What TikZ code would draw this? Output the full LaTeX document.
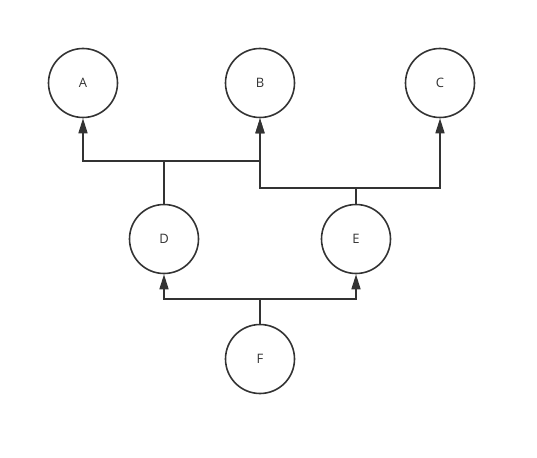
\documentclass[tikz,border=0pt]{standalone}
\usepackage{fontspec}
\setmainfont{Open Sans}
\usetikzlibrary{arrows.meta}
\definecolor{ink}{HTML}{333333}
\begin{document}
\begin{tikzpicture}[x=1pt,y=-1pt,
  nodecirc/.style={circle,draw=ink,line width=1.6pt,minimum size=69pt,inner sep=0pt,font=\fontsize{13}{15}\selectfont,text=ink},
  conn/.style={draw=ink,line width=1.6pt},
  arr/.style={conn,-{Triangle[length=15pt,width=9pt]}}]
\useasboundingbox (0,0) rectangle (537,457);
\node[nodecirc] (A) at (83,83) {A};
\node[nodecirc] (B) at (260,83) {B};
\node[nodecirc] (C) at (440,83) {C};
\node[nodecirc] (D) at (164,239) {D};
\node[nodecirc] (E) at (356,239) {E};
\node[nodecirc] (F) at (260,359) {F};
\coordinate (j1) at (164,161);
\coordinate (j2) at (356,188);
\coordinate (j3) at (260,299);
\draw[conn] (D.north) -- (j1);
\draw[arr] (j1) -| (A.south);
\draw[arr] (j1) -| (B.south);
\draw[conn] (E.north) -- (j2);
\draw[arr] (j2) -| (B.south);
\draw[arr] (j2) -| (C.south);
\draw[conn] (F.north) -- (j3);
\draw[arr] (j3) -| (D.south);
\draw[arr] (j3) -| (E.south);
\end{tikzpicture}
\end{document}
